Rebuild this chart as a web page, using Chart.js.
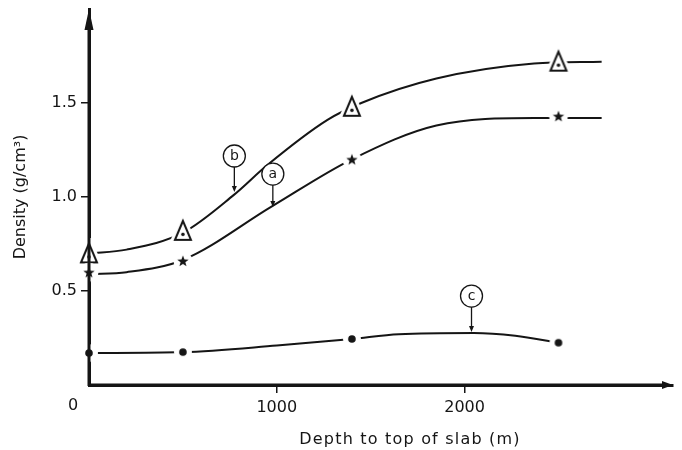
<!DOCTYPE html>
<html>
<head>
<meta charset="utf-8">
<title>Density vs depth to top of slab</title>
<script src="https://cdn.jsdelivr.net/npm/chart.js@4.4.1/dist/chart.umd.min.js"></script>
<style>
  html, body { margin: 0; padding: 0; background: #fff; }
  #wrap { width: 682px; height: 450px; position: relative; }
</style>
</head>
<body>
<div id="wrap"><canvas id="densityChart"></canvas></div>
<script>
// depth to top of slab (m) and density (g/cm3)
const markerDepths = [0, 500, 1400, 2500];
const densityA = [0.60, 0.66, 1.20, 1.43];    // stars
const densityB = [0.70, 0.82, 1.48, 1.72];    // triangles
const densityC = [0.17, 0.175, 0.245, 0.225]; // dots

// the hand drawn curves through each set
const curveADepths = [0, 200, 500, 974, 1400, 1850, 2370, 2730];
const curveA = [0.59, 0.60, 0.665, 0.95, 1.20, 1.38, 1.42, 1.42];
const curveBDepths = [0, 200, 500, 770, 950, 1270, 1450, 1850, 2370, 2730];
const curveB = [0.70, 0.72, 0.81, 1.01, 1.17, 1.41, 1.50, 1.63, 1.71, 1.72];
const curveCDepths = [0, 500, 1000, 1400, 1650, 2050, 2270, 2500];
const curveC = [0.17, 0.175, 0.21, 0.245, 0.27, 0.277, 0.262, 0.225];

const xTicks = [1000, 2000];
const yTicks = [0.5, 1.0, 1.5];

const INK = '#151515';
const FONT = '"DejaVu Sans", sans-serif';

function toPoints(xs, ys) {
    return xs.map((x, i) => ({ x: x, y: ys[i] }));
}

// Marker images: a white halo first so the curve breaks around each symbol
function makeTriangle() {
    const c = document.createElement('canvas');
    c.width = 30; c.height = 30;
    const g = c.getContext('2d');
    g.lineJoin = 'miter';
    g.beginPath();
    g.moveTo(15, 5); g.lineTo(7, 24); g.lineTo(23, 24); g.closePath();
    g.strokeStyle = '#fff'; g.lineWidth = 8; g.stroke();
    g.fillStyle = '#fff'; g.fill();
    g.strokeStyle = INK; g.lineWidth = 2; g.stroke();
    g.beginPath(); g.arc(15, 18.5, 1.8, 0, Math.PI * 2); g.fillStyle = INK; g.fill();
    return c;
}

function makeStar() {
    const c = document.createElement('canvas');
    c.width = 22; c.height = 22;
    const g = c.getContext('2d');
    g.beginPath(); g.arc(11, 11, 9.5, 0, Math.PI * 2); g.fillStyle = '#fff'; g.fill();
    g.beginPath();
    for (let i = 0; i < 10; i++) {
        const r = i % 2 === 0 ? 6 : 2.5;
        const a = -Math.PI / 2 + i * Math.PI / 5;
        const px = 11 + r * Math.cos(a), py = 11.5 + r * Math.sin(a);
        if (i === 0) g.moveTo(px, py); else g.lineTo(px, py);
    }
    g.closePath(); g.fillStyle = INK; g.fill();
    return c;
}

function makeDot() {
    const c = document.createElement('canvas');
    c.width = 20; c.height = 20;
    const g = c.getContext('2d');
    g.beginPath(); g.arc(10, 10, 9, 0, Math.PI * 2); g.fillStyle = '#fff'; g.fill();
    g.beginPath(); g.arc(10, 10, 3.8, 0, Math.PI * 2); g.fillStyle = INK; g.fill();
    return c;
}

// circled letters with a small arrow down to their curve (data units)
const callouts = [
    { letter: 'b', x: 774, y: 1.218, tip: 1.027 },
    { letter: 'a', x: 979, y: 1.122, tip: 0.947 },
    { letter: 'c', x: 2037, y: 0.473, tip: 0.282 }
];

const decorations = {
    id: 'decorations',
    afterDatasetsDraw(chart) {
        const ctx = chart.ctx;
        const xs = chart.scales.x, ys = chart.scales.y;
        const area = chart.chartArea;
        const x0 = xs.getPixelForValue(0), y0 = ys.getPixelForValue(0);
        ctx.save();
        ctx.strokeStyle = INK; ctx.fillStyle = INK;

        // axes over the markers that sit on them, with arrow heads
        ctx.lineWidth = 3;
        ctx.beginPath();
        ctx.moveTo(x0, y0 + 1); ctx.lineTo(x0, area.top + 16);
        ctx.moveTo(x0 - 1, y0); ctx.lineTo(area.right - 8, y0);
        ctx.stroke();
        ctx.beginPath();
        ctx.moveTo(x0, area.top); ctx.lineTo(x0 - 4.5, area.top + 21); ctx.lineTo(x0 + 4.5, area.top + 21);
        ctx.closePath(); ctx.fill();
        ctx.beginPath();
        ctx.moveTo(area.right, y0); ctx.lineTo(area.right - 11, y0 - 4); ctx.lineTo(area.right - 11, y0 + 4);
        ctx.closePath(); ctx.fill();

        // origin label and x axis title
        ctx.font = '16px ' + FONT;
        ctx.textAlign = 'center'; ctx.textBaseline = 'middle';
        ctx.fillText('0', x0 - 16, 406);
        ctx.font = '16px ' + FONT;
        ctx.letterSpacing = '1.2px';
        ctx.fillText('Depth to top of slab (m)', 410, 440);
        ctx.letterSpacing = '0px';

        // callouts
        ctx.lineWidth = 1.3;
        ctx.font = '14px ' + FONT;
        callouts.forEach(c => {
            const cx = xs.getPixelForValue(c.x), cy = ys.getPixelForValue(c.y);
            const ty = ys.getPixelForValue(c.tip);
            const r = 11;
            ctx.beginPath(); ctx.arc(cx, cy, r, 0, Math.PI * 2);
            ctx.fillStyle = '#fff'; ctx.fill(); ctx.stroke();
            ctx.fillStyle = INK;
            ctx.fillText(c.letter, cx, cy);
            ctx.beginPath(); ctx.moveTo(cx, cy + r); ctx.lineTo(cx, ty - 4); ctx.stroke();
            ctx.beginPath(); ctx.moveTo(cx, ty); ctx.lineTo(cx - 2.5, ty - 6); ctx.lineTo(cx + 2.5, ty - 6);
            ctx.closePath(); ctx.fill();
        });
        ctx.restore();
    }
};

// drop the extra room Chart.js keeps for tick labels at the ends
function noScalePadding(scale) {
    scale.paddingTop = 0; scale.paddingBottom = 0;
    scale.paddingLeft = 0; scale.paddingRight = 0;
}

const curveStyle = {
    showLine: true,
    pointRadius: 0,
    borderColor: INK,
    borderWidth: 2,
    cubicInterpolationMode: 'monotone',
    order: 2
};

const markerStyle = (img) => ({
    showLine: false,
    pointStyle: img,
    pointRadius: 8,
    clip: false,
    order: 1
});

new Chart(document.getElementById('densityChart'), {
    type: 'scatter',
    data: {
        datasets: [
            Object.assign({ label: 'a', data: toPoints(markerDepths, densityA) }, markerStyle(makeStar())),
            Object.assign({ label: 'b', data: toPoints(markerDepths, densityB) }, markerStyle(makeTriangle())),
            Object.assign({ label: 'c', data: toPoints(markerDepths, densityC) }, markerStyle(makeDot())),
            Object.assign({ label: 'curve a', data: toPoints(curveADepths, curveA) }, curveStyle),
            Object.assign({ label: 'curve b', data: toPoints(curveBDepths, curveB) }, curveStyle),
            Object.assign({ label: 'curve c', data: toPoints(curveCDepths, curveC) }, curveStyle)
        ]
    },
    options: {
        responsive: true,
        maintainAspectRatio: false,
        animation: false,
        layout: { padding: { top: 9, right: 2, left: 0, bottom: 0 } },
        plugins: { legend: { display: false }, tooltip: { enabled: false } },
        scales: {
            x: {
                type: 'linear',
                min: 0,
                max: 3110,
                afterBuildTicks: (scale) => { scale.ticks = xTicks.map(v => ({ value: v })); },
                afterFit: (scale) => { scale.height = 65; noScalePadding(scale); },
                ticks: {
                    color: INK,
                    font: { family: FONT, size: 16 },
                    padding: 5,
                    maxRotation: 0,
                    callback: (v) => String(v)
                },
                grid: { drawOnChartArea: false, tickLength: 8, color: INK, lineWidth: 1.5 },
                border: { display: true, color: INK, width: 3 }
            },
            y: {
                type: 'linear',
                min: 0,
                max: 2.0,
                afterBuildTicks: (scale) => { scale.ticks = yTicks.map(v => ({ value: v })); },
                afterFit: (scale) => { scale.width = 89; noScalePadding(scale); },
                ticks: {
                    color: INK,
                    font: { family: FONT, size: 16 },
                    padding: 4,
                    callback: (v) => v.toFixed(1)
                },
                grid: { drawOnChartArea: false, tickLength: 8, color: INK, lineWidth: 1.5 },
                border: { display: true, color: INK, width: 3 },
                title: {
                    display: true,
                    text: 'Density (g/cm³)',
                    color: INK,
                    font: { family: FONT, size: 16 },
                    padding: { top: 11, bottom: 0 }
                }
            }
        }
    },
    plugins: [decorations]
});
</script>
</body>
</html>
